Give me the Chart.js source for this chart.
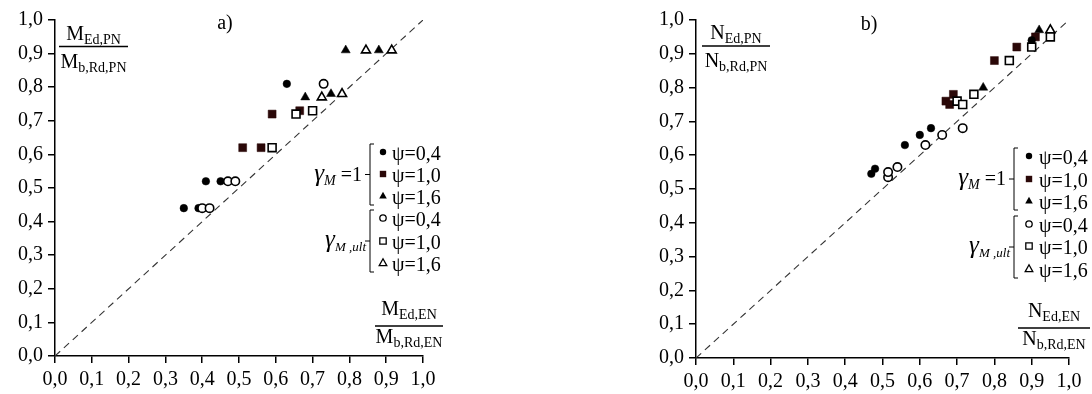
<!DOCTYPE html>
<html>
<head>
<meta charset="utf-8">
<script src="https://cdn.jsdelivr.net/npm/chart.js@4.4.0/dist/chart.umd.min.js"></script>
<style>
  html, body { margin: 0; padding: 0; background: #fff; }
  #wrap { position: relative; width: 1092px; height: 394px; overflow: hidden; }
  .box { position: absolute; top: 0; width: 546px; height: 394px; }
</style>
</head>
<body>
<div id="wrap">
  <div class="box" style="left:0"><canvas id="chartA" width="546" height="394"></canvas></div>
  <div class="box" style="left:546px"><canvas id="chartB" width="546" height="394"></canvas></div>
</div>
<script>
// tick labels (both axes, both panels)
const tickValues = [0, 0.1, 0.2, 0.3, 0.4, 0.5, 0.6, 0.7, 0.8, 0.9, 1.0];
// line of equality
const diagX = [0, 1];
const diagY = [0, 1];
const legendLabels = ['ψ=0,4', 'ψ=1,0', 'ψ=1,6'];

// a) bending moment  (gamma_M = 1 : filled, gamma_M,ult : open)
const aCircleX = [0.35, 0.39, 0.41, 0.45, 0.63];
const aCircleY = [0.44, 0.44, 0.52, 0.52, 0.81];
const aSquareX = [0.51, 0.56, 0.59, 0.665];
const aSquareY = [0.62, 0.62, 0.72, 0.73];
const aTriX = [0.68, 0.75, 0.79, 0.88];
const aTriY = [0.77, 0.78, 0.91, 0.91];
const aCircleUltX = [0.40, 0.42, 0.47, 0.49, 0.73];
const aCircleUltY = [0.44, 0.44, 0.52, 0.52, 0.81];
const aSquareUltX = [0.59, 0.655, 0.70];
const aSquareUltY = [0.62, 0.72, 0.73];
const aTriUltX = [0.725, 0.78, 0.845, 0.915];
const aTriUltY = [0.77, 0.78, 0.91, 0.91];

// b) axial force
const bCircleX = [0.47, 0.48, 0.56, 0.60, 0.63, 0.90];
const bCircleY = [0.545, 0.56, 0.63, 0.66, 0.68, 0.94];
const bSquareX = [0.67, 0.68, 0.69, 0.80, 0.86, 0.91];
const bSquareY = [0.76, 0.75, 0.78, 0.88, 0.92, 0.95];
const bTriX = [0.77, 0.92];
const bTriY = [0.80, 0.97];
const bCircleUltX = [0.515, 0.515, 0.54, 0.615, 0.66, 0.715];
const bCircleUltY = [0.535, 0.55, 0.565, 0.63, 0.66, 0.68];
const bSquareUltX = [0.70, 0.715, 0.745, 0.84, 0.90, 0.95];
const bSquareUltY = [0.76, 0.75, 0.78, 0.88, 0.92, 0.95];
const bTriUltX = [0.95];
const bTriUltY = [0.97];

const FONT = "'Liberation Serif', 'Times New Roman', serif";
const INK = '#000';
const SQUARE_INK = '#2a0808';

const pts = (xs, ys) => xs.map((x, i) => ({ x: x, y: ys[i] }));

function markers(xs, ys, style, filled, color) {
  const r = style === 'circle' ? (filled ? 3.8 : 4.2) : style === 'rect' ? 5.6 : 5.2;
  return {
    data: pts(xs, ys),
    pointStyle: style,
    pointRadius: r,
    pointHoverRadius: r,
    pointBackgroundColor: filled ? color : '#fff',
    pointBorderColor: color,
    pointBorderWidth: filled ? 0.5 : 1.6,
    showLine: false
  };
}

function diagonal() {
  return {
    data: pts(diagX, diagY),
    showLine: true,
    pointRadius: 0,
    borderColor: '#333',
    borderWidth: 1.1,
    borderDash: [7, 5],
    fill: false
  };
}

// small legend marker painter
function drawMark(ctx, style, filled, x, y, color) {
  ctx.save();
  ctx.beginPath();
  if (style === 'circle') {
    ctx.arc(x, y, 3.2, 0, Math.PI * 2);
  } else if (style === 'rect') {
    ctx.rect(x - 3.2, y - 3.2, 6.4, 6.4);
  } else {
    ctx.moveTo(x, y - 4.2);
    ctx.lineTo(x + 3.8, y + 2.6);
    ctx.lineTo(x - 3.8, y + 2.6);
    ctx.closePath();
  }
  if (filled) {
    ctx.fillStyle = color;
    ctx.fill();
  } else {
    ctx.fillStyle = '#fff';
    ctx.fill();
    ctx.lineWidth = 1.3;
    ctx.strokeStyle = color;
    ctx.stroke();
  }
  ctx.restore();
}

function drawSubText(ctx, x, y, big, sub, bigSize, subSize, italic) {
  // big letter + subscript from x on baseline y
  const it = italic ? 'italic ' : '';
  ctx.font = it + bigSize + 'px ' + FONT;
  ctx.fillText(big, x, y);
  const w = ctx.measureText(big).width;
  ctx.font = it + subSize + 'px ' + FONT;
  ctx.fillText(sub, x + w, y + 4);
  return x + w + ctx.measureText(sub).width;
}

function subWidth(ctx, big, sub, bigSize, subSize, italic) {
  const it = italic ? 'italic ' : '';
  ctx.font = it + bigSize + 'px ' + FONT;
  const w = ctx.measureText(big).width;
  ctx.font = it + subSize + 'px ' + FONT;
  return w + ctx.measureText(sub).width;
}

function drawFraction(ctx, sym, f) {
  const cx = (f.x0 + f.x1) / 2;
  ctx.strokeStyle = INK;
  ctx.lineWidth = 1.4;
  ctx.beginPath();
  ctx.moveTo(f.x0, f.y);
  ctx.lineTo(f.x1, f.y);
  ctx.stroke();
  const wn = subWidth(ctx, sym, f.num, 20, 14, false);
  drawSubText(ctx, cx - wn / 2, f.y - f.up, sym, f.num, 20, 14, false);
  const wd = subWidth(ctx, sym, f.den, 20, 14, false);
  drawSubText(ctx, cx - wd / 2, f.y + f.down, sym, f.den, 20, 14, false);
}

function drawBracket(ctx, x, y0, y1) {
  const ym = (y0 + y1) / 2;
  ctx.strokeStyle = INK;
  ctx.lineWidth = 1;
  ctx.beginPath();
  ctx.moveTo(x + 4, y0);
  ctx.lineTo(x, y0);
  ctx.lineTo(x, y1);
  ctx.lineTo(x + 4, y1);
  ctx.moveTo(x, ym);
  ctx.lineTo(x - 5, ym);
  ctx.stroke();
}

const extrasPlugin = {
  id: 'extras',
  afterDraw(chart, args, o) {
    const ctx = chart.ctx;
    ctx.save();
    ctx.fillStyle = INK;
    ctx.textBaseline = 'alphabetic';

    // panel label
    ctx.font = '20px ' + FONT;
    ctx.textAlign = 'center';
    ctx.fillText(o.panel, o.panelX, o.panelY);
    ctx.textAlign = 'left';

    drawFraction(ctx, o.sym, o.topFrac);
    drawFraction(ctx, o.sym, o.botFrac);

    // legend
    const L = o.legend;
    const styles = ['circle', 'rect', 'triangle'];
    for (let g = 0; g < 2; g++) {
      const rows = L.rows.slice(g * 3, g * 3 + 3);
      const top = rows[0] - 9, bot = rows[2] + 8;
      drawBracket(ctx, L.bracketX, top, bot);
      rows.forEach((ry, i) => {
        const col = (g === 0 && i === 1) ? SQUARE_INK : INK;
        drawMark(ctx, styles[i], g === 0, L.markerX, ry - 1, col);
        ctx.fillStyle = INK;
        ctx.font = '20px ' + FONT;
        ctx.fillText(legendLabels[i], L.textX, ry + 7);
      });
      const midY = (top + bot) / 2;
      if (g === 0) {
        ctx.font = '20px ' + FONT;
        const eq = ' =1';
        const we = ctx.measureText(eq).width;
        const wg = subWidth(ctx, 'γ', 'M', 25, 14, true);
        const xs = L.labelRight - we - wg;
        drawSubText(ctx, xs, midY + 6, 'γ', 'M', 25, 14, true);
        ctx.font = '20px ' + FONT;
        ctx.fillText(eq, xs + wg, midY + 6);
      } else {
        const wg = subWidth(ctx, 'γ', 'M ,ult', 25, 13, true);
        drawSubText(ctx, L.labelRight + 4 - wg, midY + 6, 'γ', 'M ,ult', 25, 13, true);
      }
    }
    ctx.restore();
  }
};

function tickFmt(v) {
  return v.toFixed(1).replace('.', ',');
}

function axis(fitKey, fitVal) {
  return {
    type: 'linear',
    min: 0,
    max: 1,
    afterBuildTicks: (s) => { s.ticks = tickValues.map(v => ({ value: v })); },
    afterFit: (s) => { s[fitKey] = fitVal; },
    border: { display: true, color: INK, width: 1.5 },
    grid: { drawOnChartArea: false, drawTicks: true, tickLength: 7, color: INK, lineWidth: 1.5 },
    ticks: {
      color: INK,
      font: { family: FONT, size: 20 },
      padding: fitKey === 'width' ? 5 : 5,
      maxRotation: 0,
      autoSkip: false,
      callback: (v) => tickFmt(v)
    }
  };
}

function makeChart(id, sets, yWidth, xHeight, padding, extras) {
  return new Chart(document.getElementById(id), {
    type: 'scatter',
    data: { datasets: sets },
    options: {
      responsive: false,
      animation: false,
      events: [],
      layout: { padding: padding },
      scales: {
        x: axis('height', xHeight),
        y: axis('width', yWidth)
      },
      plugins: {
        legend: { display: false },
        tooltip: { enabled: false },
        extras: extras
      }
    },
    plugins: [extrasPlugin]
  });
}

makeChart('chartA', [
  markers(aCircleUltX, aCircleUltY, 'circle', false, INK),
  markers(aSquareUltX, aSquareUltY, 'rect', false, INK),
  markers(aTriUltX, aTriUltY, 'triangle', false, INK),
  markers(aCircleX, aCircleY, 'circle', true, INK),
  markers(aSquareX, aSquareY, 'rect', true, SQUARE_INK),
  markers(aTriX, aTriY, 'triangle', true, INK),
  diagonal()
], 55, 38, { top: 20, right: 123, left: 0, bottom: 0 }, {
  panel: 'a)', panelX: 225, panelY: 29, sym: 'M',
  topFrac: { x0: 59, x1: 128, y: 46.5, up: 7, down: 21, num: 'Ed,PN', den: 'b,Rd,PN' },
  botFrac: { x0: 375, x1: 443, y: 326, up: 11, down: 17, num: 'Ed,EN', den: 'b,Rd,EN' },
  legend: { bracketX: 370, markerX: 383, textX: 392, labelRight: 362, rows: [153, 175, 197, 219, 242, 264] }
});

makeChart('chartB', [
  markers(bCircleUltX, bCircleUltY, 'circle', false, INK),
  markers(bSquareUltX, bSquareUltY, 'rect', false, INK),
  markers(bTriUltX, bTriUltY, 'triangle', false, INK),
  markers(bCircleX, bCircleY, 'circle', true, INK),
  markers(bSquareX, bSquareY, 'rect', true, SQUARE_INK),
  markers(bTriX, bTriY, 'triangle', true, INK),
  diagonal()
], 150, 36, { top: 20, right: 23, left: 0, bottom: 0 }, {
  panel: 'b)', panelX: 323, panelY: 30, sym: 'N',
  topFrac: { x0: 156, x1: 224, y: 46, up: 7, down: 21, num: 'Ed,PN', den: 'b,Rd,PN' },
  botFrac: { x0: 472, x1: 544, y: 328, up: 11, down: 17, num: 'Ed,EN', den: 'b,Rd,EN' },
  legend: { bracketX: 468, markerX: 483, textX: 493, labelRight: 460, rows: [157, 180, 202, 225, 247, 270] }
});
</script>
</body>
</html>
